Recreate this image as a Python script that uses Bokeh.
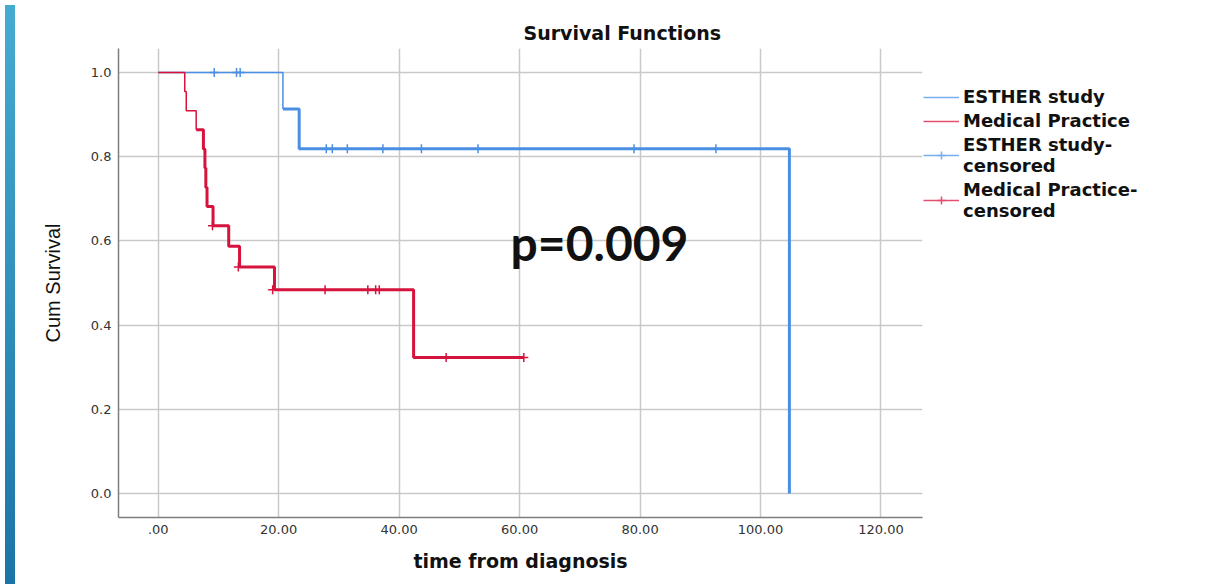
from bokeh.plotting import figure
from bokeh.models import (FixedTicker, Label, Legend, LegendItem, Div, PrintfTickFormatter)
from bokeh.layouts import row
from bokeh.embed import file_html
from bokeh.resources import INLINE

# ---- data ----
esther_time = [0.0, 20.7, 23.4, 104.8]
esther_surv = [1.0, 0.913, 0.819, 0.0]
esther_cens_time = [9.3, 13.0, 13.6, 27.9, 28.9, 31.4, 37.3, 43.7, 53.1, 79.0, 92.6]
esther_cens_surv = [1.0, 1.0, 1.0, 0.819, 0.819, 0.819, 0.819, 0.819, 0.819, 0.819, 0.819]

med_time = [0.0, 4.4, 4.65, 6.3, 7.5, 7.75, 7.9, 8.1, 9.1, 11.7, 13.5, 19.3, 42.4, 60.7]
med_surv = [1.0, 0.955, 0.909, 0.864, 0.818, 0.773, 0.727, 0.682, 0.636, 0.587, 0.538, 0.484, 0.323, 0.323]
med_cens_time = [9.0, 13.3, 19.0, 27.7, 34.8, 36.1, 36.7, 47.8, 60.7]
med_cens_surv = [0.636, 0.538, 0.484, 0.484, 0.484, 0.484, 0.484, 0.323, 0.323]

x_ticks = [0, 20, 40, 60, 80, 100, 120]
x_tick_labels = [".00", "20.00", "40.00", "60.00", "80.00", "100.00", "120.00"]
y_ticks = [0.0, 0.2, 0.4, 0.6, 0.8, 1.0]

p_text = "p=0.009"
p_text_x, p_text_y = 58.5, 0.596

BLUE = "#4a8fe3"
RED = "#d6133d"
BLUE_LIGHT = "#79aeec"
RED_LIGHT = "#e3506f"
NAN = float("nan")

p = figure(frame_width=804, frame_height=469, x_range=(-6.6, 126.9), y_range=(-0.057, 1.057),
           output_backend="svg", toolbar_location=None,
           min_border_left=98, min_border_right=270, min_border_top=48, min_border_bottom=62,
           title="Survival Functions")
p.outline_line_color = None
p.background_fill_color = "white"
p.border_fill_color = "white"

p.title.text_font = "DejaVu Sans"
p.title.text_font_size = "19px"
p.title.text_font_style = "bold"
p.title.text_color = "#111111"
p.title.align = "left"
p.title.offset = 405

for ax in (p.xaxis[0], p.yaxis[0]):
    ax.axis_line_color = "#7d7d7d"
    ax.axis_line_width = 1.5
    ax.major_tick_line_color = None
    ax.minor_tick_line_color = None
    ax.major_tick_out = 0
    ax.major_tick_in = 0
    ax.minor_tick_out = 0
    ax.major_label_text_font = "DejaVu Sans"
    ax.major_label_text_font_size = "13px"
    ax.major_label_text_color = "#333333"
    ax.axis_label_text_color = "#111111"

p.xaxis.ticker = FixedTicker(ticks=x_ticks)
p.xaxis.major_label_overrides = {t: l for t, l in zip(x_ticks, x_tick_labels)}
p.xaxis.major_label_standoff = 7
p.xaxis.axis_label = "time from diagnosis"
p.xaxis.axis_label_text_font = "DejaVu Sans"
p.xaxis.axis_label_text_font_size = "19px"
p.xaxis.axis_label_text_font_style = "bold"
p.xaxis.axis_label_standoff = 13

p.yaxis.ticker = FixedTicker(ticks=y_ticks)
p.yaxis.formatter = PrintfTickFormatter(format="%.1f")
p.yaxis.major_label_standoff = 7
p.yaxis.axis_label = "Cum Survival"
p.yaxis.axis_label_text_font = "Liberation Sans"
p.yaxis.axis_label_text_font_size = "20px"
p.yaxis.axis_label_text_font_style = "normal"
p.yaxis.axis_label_standoff = 24

p.xgrid.ticker = FixedTicker(ticks=x_ticks)
p.ygrid.ticker = FixedTicker(ticks=y_ticks)
for g in (p.xgrid[0], p.ygrid[0]):
    g.grid_line_color = "#c9c9c9"
    g.grid_line_width = 1.5

# curves (thin start, thick rest, as in the reference)
p.step(esther_time[:2], esther_surv[:2], mode="after", line_color=BLUE, line_width=1.5)
p.step(esther_time[1:], esther_surv[1:], mode="after", line_color=BLUE, line_width=3)
p.step(med_time[:4], med_surv[:4], mode="after", line_color=RED, line_width=1.5)
p.step(med_time[3:], med_surv[3:], mode="after", line_color=RED, line_width=3)

p.scatter(esther_cens_time, esther_cens_surv, marker="cross", size=9,
          line_color=BLUE, line_width=1.5)
p.scatter(med_cens_time, med_cens_surv, marker="cross", size=9,
          line_color=RED, line_width=1.5)

# legend-only glyph renderers (a NaN point: nothing drawn on the plot)
lg_b_line = p.line([NAN], [NAN], line_color=BLUE_LIGHT, line_width=1.5)
lg_r_line = p.line([NAN], [NAN], line_color=RED_LIGHT, line_width=1.5)
lg_b_c = p.scatter([NAN], [NAN], marker="cross", size=22, line_color=BLUE_LIGHT, line_width=1.5)
lg_r_c = p.scatter([NAN], [NAN], marker="cross", size=22, line_color=RED_LIGHT, line_width=1.5)

p.add_layout(Label(x=p_text_x, y=p_text_y, text=p_text, text_baseline="middle",
                   text_font="Lato", text_font_style="bold", text_font_size="48px",
                   text_color="#111111"))

legend = Legend(items=[
    LegendItem(label="ESTHER study", renderers=[lg_b_line]),
    LegendItem(label="Medical Practice", renderers=[lg_r_line]),
    LegendItem(label="ESTHER study-\ncensored", renderers=[lg_b_line, lg_b_c]),
    LegendItem(label="Medical Practice-\ncensored", renderers=[lg_r_line, lg_r_c]),
], location=(1, 296))
legend.label_text_font = "DejaVu Sans"
legend.label_text_font_style = "bold"
legend.label_text_font_size = "18px"
legend.label_text_line_height = 0.75
legend.label_text_color = "#111111"
legend.glyph_width = 36
legend.glyph_height = 20
legend.label_standoff = 4
legend.label_height = 20
legend.spacing = 3
legend.padding = 0
legend.margin = 0
legend.border_line_color = None
legend.background_fill_alpha = 0
p.add_layout(legend, "right")

strip = Div(width=10, height=579,
            styles={"background": "linear-gradient(#46abd1, #1b74a7)"})

layout = row(strip, p)
open("out.html", "w").write(file_html(layout, INLINE))
